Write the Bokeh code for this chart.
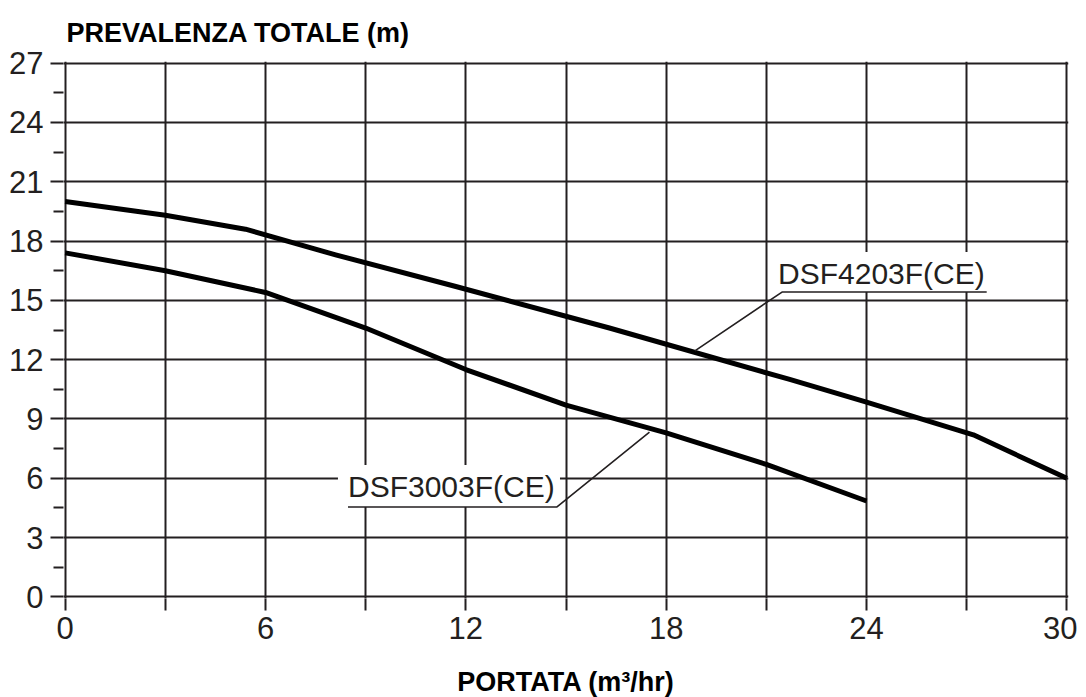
from bokeh.plotting import figure
from bokeh.models import Range1d, FixedTicker
from bokeh.core.properties import value
from bokeh.embed import file_html
from bokeh.resources import INLINE

# ---- data ----
x_4203 = [0, 3, 5.4, 8.1, 11.7, 16.3, 21.7, 24, 27.2, 30]
y_4203 = [20.0, 19.3, 18.6, 17.3, 15.7, 13.6, 11.0, 9.85, 8.2, 6.0]
x_3003 = [0, 3, 6, 9, 12, 15, 18, 21, 24]
y_3003 = [17.4, 16.5, 15.4, 13.6, 11.5, 9.7, 8.3, 6.7, 4.85]
x_ticks = [0, 3, 6, 9, 12, 15, 18, 21, 24, 27, 30]
x_labels = [0, 6, 12, 18, 24, 30]
y_ticks = [0, 3, 6, 9, 12, 15, 18, 21, 24, 27]
y_minor = [1.5, 4.5, 7.5, 10.5, 13.5, 16.5, 19.5, 22.5, 25.5]
series_names = ["DSF4203F(CE)", "DSF3003F(CE)"]
x_title = "PORTATA (m³/hr)"
y_title = "PREVALENZA TOTALE (m)"

INK = "#231f20"
FONT = "Liberation Sans"

p = figure(
    frame_width=1005, frame_height=537,
    x_range=Range1d(-0.05, 30.05), y_range=Range1d(-0.08, 27.08),
    output_backend="svg", toolbar_location=None,
    min_border_left=63, min_border_right=9, min_border_top=61, min_border_bottom=4,
    background_fill_color="white", border_fill_color="white",
    title=y_title, title_location="above",
)
p.outline_line_color = None

# y-axis title at top-left
p.title.text_font = FONT
p.title.text_font_size = "27px"
p.title.text_font_style = "bold"
p.title.text_color = "black"
p.title.align = "left"
p.title.offset = 3
p.title.standoff = 28

# grid
p.xgrid.ticker = FixedTicker(ticks=x_ticks)
p.ygrid.ticker = FixedTicker(ticks=y_ticks)
for g in (p.xgrid, p.ygrid):
    g.grid_line_color = INK
    g.grid_line_width = 2
    g.grid_line_alpha = 1

# axes
xa = p.xaxis[0]
xa.ticker = FixedTicker(ticks=x_labels, minor_ticks=[t for t in x_ticks if t not in x_labels])
ya = p.yaxis[0]
ya.ticker = FixedTicker(ticks=y_ticks, minor_ticks=y_minor)
for ax in (xa, ya):
    ax.axis_line_color = None
    ax.major_tick_line_color = INK
    ax.minor_tick_line_color = INK
    ax.major_tick_line_width = 2
    ax.minor_tick_line_width = 2
    ax.major_tick_in = 0
    ax.minor_tick_in = 0
    ax.major_label_text_font = FONT
    ax.major_label_text_font_size = "31px"
    ax.major_label_text_color = INK
xa.major_tick_out = 12
xa.minor_tick_out = 12
xa.major_label_standoff = 6
ya.major_tick_out = 13
ya.minor_tick_out = 10
ya.major_label_standoff = 7

xa.axis_label = x_title
xa.axis_label_text_font = FONT
xa.axis_label_text_font_size = "27px"
xa.axis_label_text_font_style = "bold"
xa.axis_label_text_color = "black"
xa.axis_label_standoff = 25

# curves
p.line(x_4203, y_4203, line_color="black", line_width=5, line_join="round")
p.line(x_3003, y_3003, line_color="black", line_width=5, line_join="round")

# label boxes (mask grid)
p.quad(left=[21.26, 8.17], right=[27.7, 14.82], bottom=[15.42, 4.55], top=[17.44, 6.67],
       fill_color="white", line_color=None)

# underline + leader lines
p.line([27.6, 21.47, 18.86], [15.42, 15.42, 12.44], line_color=INK, line_width=1.6)
p.line([8.47, 14.73, 17.5], [4.55, 4.55, 8.34], line_color=INK, line_width=1.6)

p.text(x=[21.35, 8.47], y=[16.37, 5.58], text=series_names,
       text_font=value(FONT), text_font_size="30px", text_color=INK,
       text_align="left", text_baseline="alphabetic")

open("out.html", "w").write(file_html(p, INLINE))
